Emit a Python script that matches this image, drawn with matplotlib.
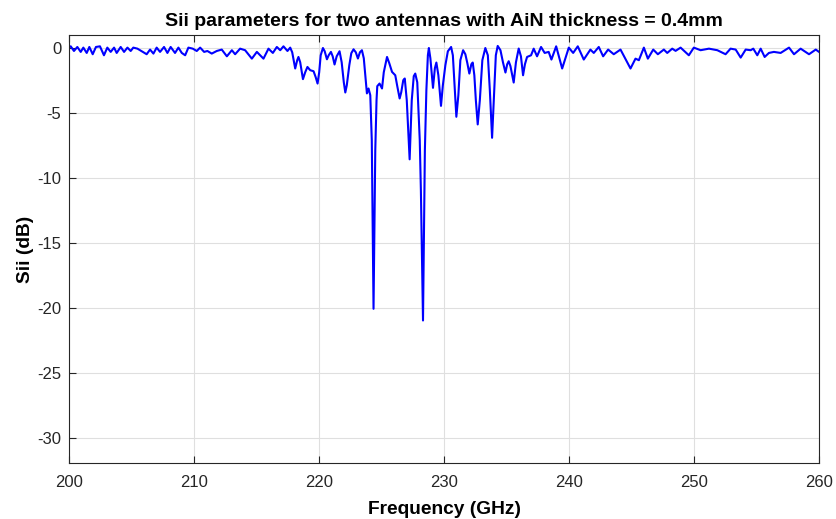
import matplotlib
matplotlib.use("Agg")
import matplotlib.pyplot as plt

plt.rcParams['font.family'] = ['Liberation Sans', 'DejaVu Sans']

freq_ghz = [
    200.0, 200.1, 200.36, 200.63, 200.9, 201.11, 201.38, 201.59, 201.86, 202.12,
    202.44, 202.76, 203.03, 203.3, 203.57, 203.78, 204.1, 204.37, 204.64, 204.9,
    205.11, 205.44, 205.65, 206.18, 206.45, 206.72, 206.98, 207.25, 207.57, 207.84,
    208.1, 208.45, 208.72, 208.99, 209.26, 209.52, 209.87, 210.19, 210.46, 210.78,
    211.04, 211.39, 211.79, 212.19, 212.6, 213.0, 213.26, 213.66, 214.06, 214.6,
    215.0, 215.53, 215.93, 216.28, 216.6, 216.87, 217.13, 217.45,
    217.67, 217.83, 218.07, 218.23, 218.33, 218.47, 218.69, 218.87, 219.05, 219.27,
    219.54, 219.71, 219.86, 219.99, 220.11, 220.29, 220.43, 220.61, 220.75, 220.93,
    221.07, 221.22, 221.39, 221.62, 221.79, 221.96, 222.08, 222.20, 222.40, 222.56,
    222.74, 222.92, 223.09, 223.25, 223.41, 223.56, 223.72, 223.81, 223.94, 224.08,
    224.20, 224.34, 224.48, 224.58, 224.64, 224.82, 225.02, 225.16, 225.42, 225.60,
    225.82, 226.08, 226.24, 226.43, 226.56, 226.72, 226.84, 227.00, 227.23, 227.40,
    227.56, 227.68, 227.84, 228.04, 228.13, 228.30, 228.45, 228.57, 228.69, 228.77,
    228.89, 229.10, 229.25, 229.37, 229.53, 229.74, 229.89, 230.09, 230.29, 230.55,
    230.69, 230.83, 230.97, 231.13, 231.29, 231.51, 231.69, 231.85, 232.01, 232.17,
    232.28, 232.41, 232.53, 232.68, 232.85, 233.05, 233.29, 233.49, 233.65, 233.83,
    233.97, 234.13, 234.28, 234.50, 234.70, 234.90, 235.04, 235.16, 235.30, 235.56,
    235.74, 235.96, 236.14, 236.31, 236.46, 236.63,
    236.95, 237.16, 237.43, 237.75, 238.04, 238.36, 238.58, 238.96, 239.44, 239.97,
    240.32, 240.69, 241.17, 241.7, 241.97, 242.37, 242.72, 243.12, 243.57, 244.11,
    244.91, 245.31, 245.58, 245.98, 246.3, 246.73, 247.1, 247.58, 247.85, 248.25,
    248.52, 248.92, 249.58, 249.98, 250.52, 251.19, 251.86, 252.52, 252.92, 253.33,
    253.73, 254.13, 254.53, 254.74, 255.06, 255.33, 255.65, 255.99, 256.39, 256.93,
    257.6, 258.0, 258.53, 259.2, 259.74, 260.0,
]

sii_db = [
    0.10, 0.15, -0.21, 0.10, -0.28, 0.05, -0.36, 0.10, -0.46, 0.10,
    0.15, -0.54, 0.05, -0.28, 0.05, -0.36, 0.10, -0.28, 0.05, -0.21,
    0.05, -0.03, -0.15, -0.46, -0.10, -0.41, 0.05, -0.28, 0.10, -0.36,
    0.10, -0.36, 0.05, -0.36, -0.54, 0.05, -0.03, -0.21, 0.05, -0.28,
    -0.21, -0.41, -0.21, -0.10, -0.62, -0.15, -0.46, -0.03, -0.15, -0.80,
    -0.28, -0.80, -0.03, -0.36, 0.10, -0.15, 0.15, -0.21,
    0.05, -0.31, -1.56, -0.92, -0.67, -1.08, -2.38, -1.85, -1.44, -1.69,
    -1.77, -2.23, -2.72, -1.85, -0.54, 0.02, -0.23, -0.85, -0.54, -0.28,
    -0.62, -1.25, -0.62, -0.23, -1.08, -2.62, -3.41, -2.85, -1.31, -0.38,
    -0.08, -0.31, -0.79, -0.31, -0.15, -0.77, -2.46, -3.48, -3.10, -3.62,
    -7.08, -20.08, -7.85, -4.00, -2.92, -2.72, -3.10, -1.85, -0.67, -1.15,
    -1.82, -2.08, -2.92, -3.87, -3.38, -2.46, -2.33, -4.00, -8.56, -4.00,
    -2.15, -1.95, -2.62, -7.08, -10.92, -20.98, -7.85, -3.23, -0.54, 0.02,
    -0.77, -3.05, -1.54, -1.10, -2.08, -4.44, -2.85, -1.31, -0.23, 0.10,
    -0.54, -2.85, -5.28, -3.62, -0.92, -0.15, -0.46, -1.15, -1.95, -1.23,
    -1.10, -2.08, -4.00, -5.87, -4.00, -0.92, 0.02, -0.54, -3.23, -6.90,
    -4.00, -0.54, 0.18, -0.15, -1.08, -1.87, -1.23, -1.00, -1.38, -2.64,
    -1.08, -0.02, -0.62, -2.08, -1.23, -0.67,
    -0.54, -0.03, -0.62, 0.10, -0.36, -0.28, -0.87, 0.15, -1.56, 0.05,
    -0.36, 0.15, -0.87, -0.10, -0.36, 0.10, -0.62, -0.10, -0.46, -0.10,
    -1.56, -0.80, -0.92, 0.05, -0.80, -0.10, -0.46, -0.10, -0.36, -0.03,
    -0.20, 0.05, -0.54, 0.05, -0.15, -0.03, -0.15, -0.46, -0.03, -0.10,
    -0.72, -0.10, -0.15, -0.03, -0.54, -0.03, -0.67, -0.36, -0.28, -0.36,
    0.05, -0.46, -0.03, -0.46, -0.10, -0.28,
]

x_ticks = [200, 210, 220, 230, 240, 250, 260]
y_ticks = [0, -5, -10, -15, -20, -25, -30]

fig = plt.figure(figsize=(8.37, 5.19), dpi=100)
ax = fig.add_axes([0.083, 0.107, 0.8955, 0.825])

ax.plot(freq_ghz, sii_db, color='#0000ff', lw=1.5, solid_joinstyle='round')

ax.set_xlim(200, 260)
ax.set_ylim(-32, 1)
ax.set_xticks(x_ticks)
ax.set_yticks(y_ticks)
ax.set_yticklabels([str(v) for v in y_ticks])

ax.grid(True, color='#dfdfdf', lw=0.8)
ax.set_axisbelow(True)
for s in ax.spines.values():
    s.set_color('#262626')
    s.set_linewidth(0.8)
ax.tick_params(direction='in', length=5, width=0.8, colors='#262626',
               labelsize=12, top=True, right=False)
ax.tick_params(axis='x', pad=8)
ax.tick_params(axis='y', pad=6)

ax.set_title('Sii parameters for two antennas with AiN thickness = 0.4mm',
             fontsize=14, fontweight='bold', pad=7)
ax.set_xlabel('Frequency (GHz)', fontsize=13.8, fontweight='bold', labelpad=8)
ax.set_ylabel('Sii (dB)', fontsize=13.8, fontweight='bold', labelpad=2)

fig.savefig('out.png', dpi=100)
